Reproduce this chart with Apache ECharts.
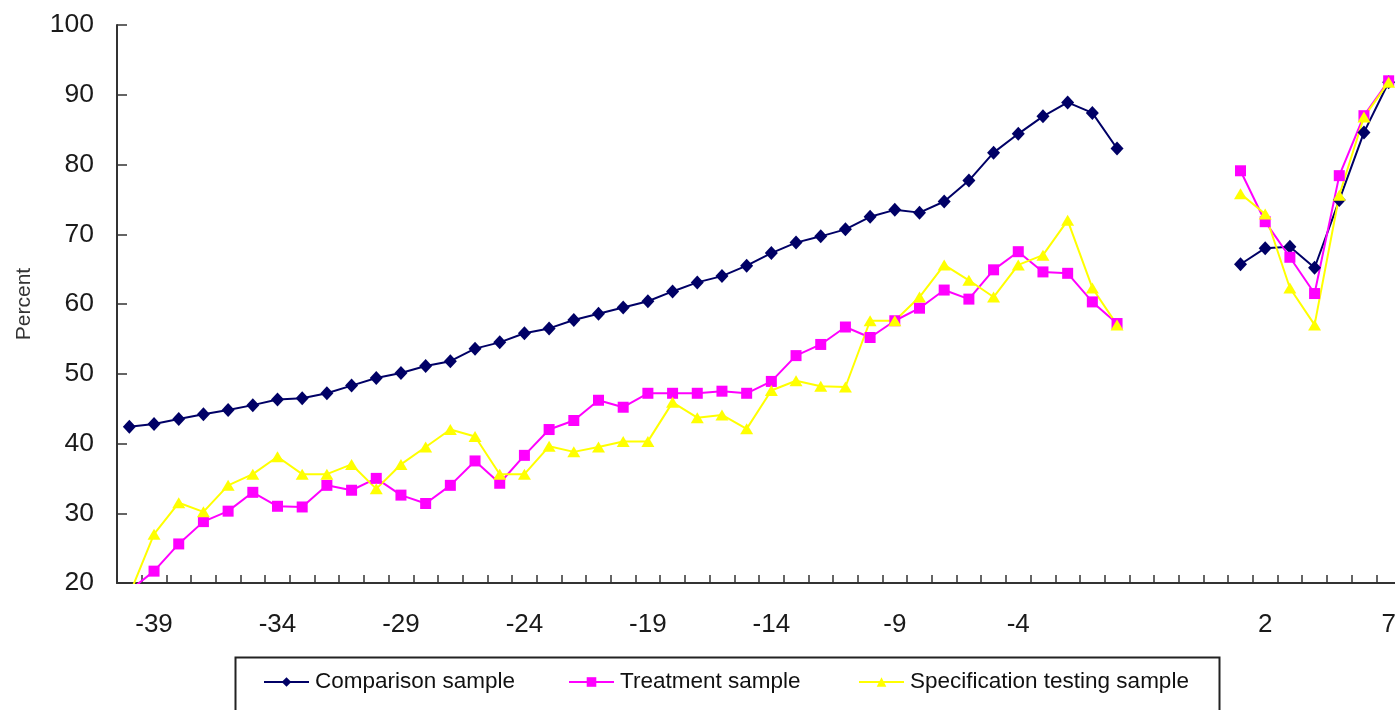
<!DOCTYPE html>
<html>
<head>
<meta charset="utf-8">
<title>Percent by period</title>
<script src="https://cdn.jsdelivr.net/npm/echarts@6/dist/echarts.min.js"></script>
<style>
  html, body { margin: 0; padding: 0; background: #ffffff; overflow: hidden; }
  /* the last period sits on the right edge, so the canvas runs a few pixels past the window */
  #chart { width: 1402px; height: 710px; }
</style>
</head>
<body>
<div id="chart"></div>
<script>
// Periods relative to the event; four empty slots separate period 0 from period 1.
const periods = [
  '-40', '-39', '-38', '-37', '-36', '-35', '-34', '-33', '-32', '-31',
  '-30', '-29', '-28', '-27', '-26', '-25', '-24', '-23', '-22', '-21',
  '-20', '-19', '-18', '-17', '-16', '-15', '-14', '-13', '-12', '-11',
  '-10', '-9', '-8', '-7', '-6', '-5', '-4', '-3', '-2', '-1',
  '0', '', '', '', '',
  '1', '2', '3', '4', '5', '6', '7'
];

const comparisonSample = [
  42.4, 42.8, 43.5, 44.2, 44.8, 45.5, 46.3, 46.5, 47.2, 48.3,
  49.4, 50.1, 51.1, 51.8, 53.6, 54.5, 55.8, 56.5, 57.7, 58.6,
  59.5, 60.4, 61.8, 63.1, 64.0, 65.5, 67.3, 68.8, 69.7, 70.7,
  72.5, 73.5, 73.1, 74.7, 77.7, 81.7, 84.4, 86.9, 88.9, 87.4,
  82.3, null, null, null, null,
  65.7, 68.0, 68.2, 65.2, 74.9, 84.6, 91.8
];

const treatmentSample = [
  18.9, 21.7, 25.6, 28.8, 30.3, 33.0, 31.0, 30.9, 34.0, 33.3,
  35.0, 32.6, 31.4, 34.0, 37.5, 34.3, 38.3, 42.0, 43.3, 46.2,
  45.2, 47.2, 47.2, 47.2, 47.5, 47.2, 48.9, 52.6, 54.2, 56.7,
  55.2, 57.6, 59.4, 62.0, 60.7, 64.9, 67.5, 64.6, 64.4, 60.3,
  57.2, null, null, null, null,
  79.1, 71.8, 66.7, 61.5, 78.4, 87.0, 92.0
];

const specificationSample = [
  18.3, 27.0, 31.5, 30.2, 34.0, 35.6, 38.1, 35.6, 35.6, 37.0,
  33.5, 37.0, 39.5, 42.0, 41.0, 35.6, 35.6, 39.6, 38.8, 39.5,
  40.3, 40.3, 45.9, 43.7, 44.1, 42.1, 47.6, 49.0, 48.2, 48.1,
  57.6, 57.6, 61.0, 65.6, 63.4, 61.0, 65.6, 67.0, 72.0, 62.3,
  57.0, null, null, null, null,
  75.8, 72.9, 62.3, 57.0, 75.6, 86.8, 91.8
];

const seriesNames = ['Comparison sample', 'Treatment sample', 'Specification testing sample'];

const FONT = '"Liberation Sans", Arial, sans-serif';
const AXIS_COLOR = '#333333';

const chart = echarts.init(document.getElementById('chart'), null, { renderer: 'canvas' });

function lineSeries(name, data, color, symbol, size) {
  return {
    name: name,
    type: 'line',
    data: data,
    connectNulls: false,
    symbol: symbol,
    symbolSize: size,
    showSymbol: true,
    animation: false,
    lineStyle: { color: color, width: 2 },
    itemStyle: { color: color, borderWidth: 0 },
    emphasis: { disabled: true }
  };
}

// one legend entry per box slot, spaced along the bottom frame
function legendEntry(name, left) {
  return {
    left: left,
    top: 670,
    padding: 0,
    itemWidth: 45,
    itemHeight: 12,
    selectedMode: false,
    textStyle: { color: '#111111', fontFamily: FONT, fontSize: 22.5, lineHeight: 24, padding: [0, 0, 0, 1] },
    data: [name]
  };
}

chart.setOption({
  backgroundColor: '#ffffff',
  animation: false,
  grid: { left: 117, right: 1, top: 25, bottom: 127, containLabel: false },
  xAxis: {
    type: 'category',
    data: periods,
    boundaryGap: true,
    axisLine: { show: true, lineStyle: { color: AXIS_COLOR, width: 2 } },
    axisTick: {
      show: true, inside: true, length: 8,
      interval: 0,
      lineStyle: { color: AXIS_COLOR, width: 1.5 }
    },
    axisLabel: {
      show: true,
      interval: function (index) { return index % 5 === 1; },
      margin: 29,
      color: '#1a1a1a',
      fontFamily: FONT,
      fontSize: 26
    },
    splitLine: { show: false }
  },
  yAxis: {
    type: 'value',
    min: 20,
    max: 100,
    interval: 10,
    name: 'Percent',
    nameLocation: 'middle',
    nameRotate: 90,
    nameGap: 82,
    nameTextStyle: { color: '#333333', fontFamily: FONT, fontSize: 21 },
    axisLine: { show: true, lineStyle: { color: AXIS_COLOR, width: 2 } },
    axisTick: { show: true, inside: true, length: 10, lineStyle: { color: AXIS_COLOR, width: 1.5 } },
    axisLabel: { margin: 23, color: '#1a1a1a', fontFamily: FONT, fontSize: 26.5 },
    splitLine: { show: false }
  },
  legend: [
    legendEntry(seriesNames[0], 263),
    legendEntry(seriesNames[1], 568),
    legendEntry(seriesNames[2], 858)
  ],
  graphic: [{
    type: 'rect',
    left: 233,
    top: 655,
    shape: { width: 984, height: 90 },
    style: { fill: null, stroke: '#222222', lineWidth: 2 },
    silent: true,
    z: 0
  }],
  series: [
    lineSeries(seriesNames[0], comparisonSample, '#000066', 'diamond', [13, 14]),
    lineSeries(seriesNames[1], treatmentSample, '#ff00ff', 'rect', 11),
    lineSeries(seriesNames[2], specificationSample, '#ffff00', 'triangle', [13, 11])
  ]
});
</script>
</body>
</html>
